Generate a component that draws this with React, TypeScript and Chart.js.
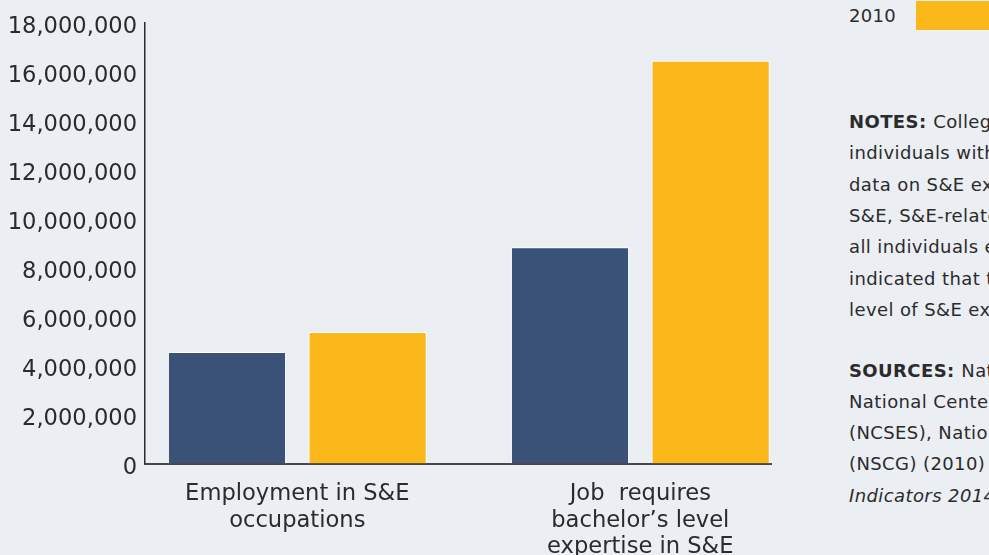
import React, { useEffect, useRef } from "react";
import { Chart, registerables } from "chart.js";

Chart.register(...registerables);

// ---- data ----
const categories: string[][] = [
  ["Employment in S&E", "occupations"],
  ["Job  requires", "bachelor’s level", "expertise in S&E"],
];
const seriesNames = ["2003", "2010"];
const values2003 = [4550000, 8830000];
const values2010 = [5370000, 16450000];
const yTicks = [0, 2000000, 4000000, 6000000, 8000000, 10000000, 12000000, 14000000, 16000000, 18000000];
const seriesColors = ["#3A5178", "#FAB81B"];

const notesLines = [
  "College graduates include all",
  "individuals with a bachelor’s degree or higher",
  "data on S&E expertise are available",
  "S&E, S&E-related, or non-S&E",
  "all individuals employed in",
  "indicated that their job required",
  "level of S&E expertise.",
];
const sourcesLines = [
  "National Science Foundation,",
  "National Center for Science and",
  "(NCSES), National Survey of",
  "(NSCG) (2010)",
];
const sourcesItalic = "Indicators 2014";

const TEXT = "#2b2b2b";
const FONT = "'DejaVu Sans', Verdana, sans-serif";

export default function App() {
  const ref = useRef<HTMLCanvasElement>(null);

  useEffect(() => {
    const seriesValues = [values2003, values2010];
    const chart = new Chart(ref.current!, {
      type: "bar",
      data: {
        datasets: seriesValues.map((vals, d) => ({
          label: seriesNames[d],
          data: vals.map((v, i) => ({ x: i, y: v })),
          backgroundColor: seriesColors[d],
          borderColor: "#ffffff",
          borderWidth: 1,
          barPercentage: 0.84,
          categoryPercentage: 0.82,
        })),
      },
      options: {
        animation: false,
        responsive: true,
        maintainAspectRatio: false,
        layout: { padding: { top: 22.7, right: 9, left: 0, bottom: 0 } },
        plugins: { legend: { display: false }, tooltip: { enabled: false } },
        scales: {
          x: {
            type: "linear",
            offset: false,
            min: -0.444,
            max: 1.381,
            z: 1,
            grid: { display: false, drawTicks: false },
            border: { display: true, color: "#484848", width: 2 },
            afterBuildTicks: (s: any) => {
              s.ticks = categories.map((_, i) => ({ value: i }));
            },
            afterFit: (s: any) => {
              s.height = 91.5;
            },
            ticks: {
              autoSkip: false,
              maxRotation: 0,
              minRotation: 0,
              padding: 17.5,
              color: TEXT,
              font: { size: 22.6, family: FONT, lineHeight: 1.17 },
              callback: (v: any) => categories[Number(v)] ?? "",
            },
          },
          y: {
            type: "linear",
            min: 0,
            max: 18000000,
            z: 1,
            grid: { display: false, drawTicks: false },
            border: { display: true, color: "#2a2a2a", width: 1.5 },
            afterBuildTicks: (s: any) => {
              s.ticks = yTicks.map((v) => ({ value: v }));
            },
            afterFit: (s: any) => {
              s.width = 145;
            },
            ticks: {
              padding: 8,
              color: TEXT,
              font: { size: 22.6, family: FONT, lineHeight: "9px" },
              // empty first line nudges the label a few pixels below its tick, as in the source
              callback: (v: any) => ["", Number(v).toLocaleString("en-US")],
            },
          },
        },
      } as any,
    });
    return () => chart.destroy();
  }, []);

  const textBlock: React.CSSProperties = {
    position: "absolute",
    left: 849,
    whiteSpace: "nowrap",
    fontSize: 18,
    letterSpacing: "0.4px",
    lineHeight: "31.3px",
  };

  return (
    <div
      style={{
        position: "fixed",
        left: 0,
        top: 0,
        width: 989,
        height: 555,
        overflow: "hidden",
        background: "#EBEEF3",
        fontFamily: FONT,
        color: TEXT,
      }}
    >
      <div style={{ position: "absolute", left: 0, top: 0, width: 780, height: 555 }}>
        <canvas ref={ref} />
      </div>

      {/* legend (top item cropped above the view) */}
      <div style={{ position: "absolute", left: 849, top: -37, whiteSpace: "nowrap" }}>
        {seriesNames.map((name, i) => (
          <div key={name} style={{ display: "flex", alignItems: "center", height: 29, marginBottom: 9 }}>
            <span style={{ width: 67, fontSize: 18, lineHeight: "29px", letterSpacing: "0.3px" }}>{name}</span>
            <span style={{ width: 120, height: 29, background: seriesColors[i] }} />
          </div>
        ))}
      </div>

      <div style={{ ...textBlock, top: 106.2 }}>
        {notesLines.map((t, i) => (
          <div key={i}>
            {i === 0 ? <b>NOTES: </b> : null}
            {t}
          </div>
        ))}
      </div>

      <div style={{ ...textBlock, top: 354.5 }}>
        {sourcesLines.map((t, i) => (
          <div key={i}>
            {i === 0 ? <b>SOURCES: </b> : null}
            {t}
          </div>
        ))}
        <div>
          <i>{sourcesItalic}</i>
        </div>
      </div>
    </div>
  );
}
